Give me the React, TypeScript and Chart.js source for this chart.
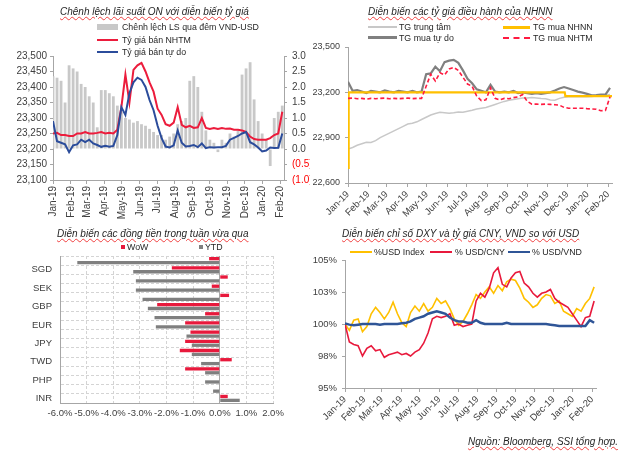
import React, { useEffect, useRef } from 'react';
import { Chart, registerables } from 'chart.js';

Chart.register(...registerables);

const FONT = '"Liberation Sans", Arial, Helvetica, sans-serif';
const TICK_COLOR = '#404040';
const AXIS_COLOR = '#a6a6a6';

// ---- shared time axis (days since 1 Jan 2019, one value per week) ----
const monthDays = [0, 31, 59, 90, 120, 151, 181, 212, 243, 273, 304, 334, 365, 396];
const monthLabels = ['Jan-19', 'Feb-19', 'Mar-19', 'Apr-19', 'May-19', 'Jun-19', 'Jul-19', 'Aug-19', 'Sep-19', 'Oct-19', 'Nov-19', 'Dec-19', 'Jan-20', 'Feb-20'];
const lastDay = 402;
const weekStep = 7;

// ---- chart 1: Chênh lệch lãi suất ON với diễn biến tỷ giá ----
const gapON = [
  2.35, 2.3, 2.2, 1.5, 2.7, 2.6, 2.5, 2.1, 2.0, 1.7,
  1.5, 0.7, 1.9, 1.9, 1.8, 1.7, 1.4, 1.2, 1.0, 0.95,
  0.85, 0.9, 0.8, 0.75, 0.65, 0.55, 0.45, 0.45, 0.3, 0.4,
  0.5, 0.8, 0.9, 1.0, 2.2, 2.35, 2.0, 1.2, 0.6, 0.3,
  0.2, -0.1, 0.3, 0.2, 0.5, 0.4, 0.6, 2.4, 2.6, 2.8,
  1.6, 0.9, 0.5, 0.3, -0.55, 1.0, 1.2, 1.4,
];
const sellNHTM = [
  23250, 23252, 23245, 23245, 23242, 23242, 23250, 23250, 23255, 23250,
  23250, 23252, 23255, 23250, 23252, 23250, 23262, 23335, 23440, 23350,
  23455, 23470, 23478, 23450, 23415, 23385, 23330, 23310, 23280, 23275,
  23285, 23335, 23278, 23270, 23275, 23268, 23270, 23300, 23268, 23265,
  23268, 23265, 23268, 23265, 23266, 23262, 23262, 23260, 23255, 23240,
  23232, 23230, 23230, 23230, 23235, 23245, 23250, 23320,
];
const sellFree = [
  23290, 23225, 23220, 23215, 23190, 23212, 23215, 23230, 23222, 23230,
  23218, 23213, 23207, 23210, 23207, 23210, 23245, 23335, 23310, 23380,
  23415, 23430, 23423, 23400, 23358, 23325, 23275, 23235, 23208, 23205,
  23212, 23260, 23220, 23208, 23210, 23213, 23206, 23218, 23203, 23206,
  23205, 23206, 23206, 23210, 23230, 23236, 23242, 23250, 23255, 23222,
  23215, 23205, 23192, 23195, 23205, 23203, 23204, 23250,
];

// ---- chart 2: Diễn biến các tỷ giá điều hành của NHNN ----
const centralRate = [
  22825, 22835, 22850, 22860, 22870, 22868, 22880, 22900, 22915, 22930,
  22945, 22960, 22975, 22990, 22995, 23005, 23020, 23035, 23050, 23060,
  23068, 23065, 23062, 23065, 23070, 23068, 23075, 23082, 23090, 23095,
  23100, 23110, 23120, 23130, 23140, 23148, 23152, 23158, 23162, 23163,
  23165, 23163, 23160, 23158, 23150, 23148, 23160, 23168, 23170, 23172,
  23170, 23172, 23170, 23172, 23175, 23178, 23180, 23185,
];
const buyFree = [
  23270, 23210, 23215, 23205, 23195, 23210, 23205, 23200, 23212, 23205,
  23200, 23210, 23205, 23200, 23210, 23200, 23205, 23320, 23325, 23370,
  23340, 23400, 23410, 23415, 23395, 23345, 23290, 23260, 23220, 23210,
  23200, 23250, 23205, 23200, 23205, 23200, 23210, 23195, 23200, 23195,
  23190, 23195, 23190, 23195, 23200, 23212, 23225, 23235, 23225, 23215,
  23205, 23198, 23190, 23180, 23182, 23185, 23185, 23230,
];
const buyNHTM = [
  23160, 23162, 23158, 23160, 23155, 23160, 23158, 23160, 23162, 23158,
  23160, 23158, 23160, 23162, 23158, 23160, 23160, 23240, 23320, 23275,
  23330, 23315, 23355, 23365, 23345, 23300, 23255, 23240, 23175, 23145,
  23150, 23230, 23160, 23150, 23160, 23158, 23165, 23170, 23185, 23140,
  23122, 23122, 23120, 23122, 23120, 23118, 23115, 23100, 23095, 23095,
  23095, 23095, 23092, 23090, 23088, 23078, 23080, 23170,
];
const nhnnDays = [0, 1, 330, 331, 402];
const nhnnBuy = [22700, 23200, 23200, 23175, 23175];

// ---- chart 3: Diễn biến các đồng tiền trong tuần vừa qua ----
const currencies = ['KRW', 'SGD', 'THB', 'SEK', 'AUD', 'GBP', 'CHF', 'EUR', 'MYR', 'JPY', 'CNY', 'TWD', 'IDR', 'PHP', 'HKD', 'INR'];
const wow = [-0.4, -1.8, 0.3, -0.3, 0.35, -2.35, -0.55, -1.3, -1.1, -1.3, -1.5, 0.45, -1.3, 0, 0, 0.3];
const ytd = [-5.35, -3.25, -3.15, -3.15, -2.9, -2.7, -2.45, -2.4, -1.25, -1.05, -1.05, -0.7, -0.55, -0.55, -0.25, 0.75];

// ---- chart 4: Diễn biến chỉ số DXY và tỷ giá CNY, VND so với USD ----
const usdIndex = [
  100.0, 99.5, 100.3, 100.4, 99.4, 99.8, 100.8, 101.3, 100.9, 100.4,
  100.9, 101.7, 100.8, 100.1, 99.8, 100.9, 101.4, 101.0, 101.6, 101.0,
  101.3, 102.0, 101.6, 101.8, 101.2, 100.4, 99.9, 100.2, 100.8, 101.5,
  102.3, 102.0, 102.5, 102.9, 102.4, 103.0, 102.6, 103.3, 103.5, 103.4,
  102.8, 102.0, 101.7, 101.3, 101.5, 102.0, 102.3, 102.2, 101.6, 101.8,
  101.0, 100.8, 100.6, 101.2, 101.0, 101.6, 102.0, 102.9,
];
const usdCny = [
  100.0, 98.6, 98.4, 98.3, 97.5, 98.1, 98.3, 97.9, 98.0, 97.4,
  97.6, 97.7, 97.8, 97.6, 97.7, 97.5, 97.8, 98.0, 98.5, 99.3,
  100.4, 100.6, 100.5, 100.6, 100.8, 99.9, 100.0, 99.8, 99.9, 100.0,
  101.8, 102.4, 102.1, 102.8, 104.0, 104.4, 103.1, 102.9, 103.6, 104.0,
  104.1, 103.2, 102.9, 102.4, 102.1, 102.4, 102.5, 102.7, 102.0, 101.7,
  101.5, 101.3, 100.8, 100.3, 99.8, 100.5, 100.6, 101.8,
];
const usdVnd = [
  100.05, 99.95, 99.9, 99.95, 100.0, 100.0, 100.0, 100.0, 99.95, 100.0,
  100.0, 100.0, 100.0, 100.05, 100.1, 100.2, 100.4, 100.5, 100.6, 100.8,
  100.9, 101.0, 100.9, 100.8, 100.5, 100.3, 100.2, 100.2, 100.1, 100.1,
  100.3, 100.1, 100.0, 100.0, 100.0, 100.0, 100.0, 100.1, 100.0, 100.0,
  100.0, 100.0, 100.0, 100.0, 100.0, 100.0, 100.0, 99.95, 99.9, 99.85,
  99.85, 99.85, 99.85, 99.85, 99.85, 99.85, 100.3, 100.1,
];

const weekly = (values: number[]) => values.map((y, i) => ({ x: i * weekStep, y }));
const thousands = (v: number) => String(v).replace(/\B(?=(\d{3})+(?!\d))/g, ',');

const common = {
  animation: false,
  responsive: true,
  maintainAspectRatio: false,
  events: [] as string[],
  elements: { point: { radius: 0 }, line: { tension: 0 } },
  plugins: { legend: { display: false }, tooltip: { enabled: false }, title: { display: false } },
};

function monthAxis(size: number, rotation: number, height: number) {
  return {
    type: 'linear',
    min: 0,
    max: lastDay,
    offset: false,
    afterBuildTicks: (axis: any) => {
      axis.ticks = monthDays.map((value) => ({ value }));
    },
    afterFit: (axis: any) => {
      axis.height = height;
    },
    ticks: {
      autoSkip: false,
      minRotation: rotation,
      maxRotation: rotation,
      padding: 2,
      color: TICK_COLOR,
      font: { family: FONT, size },
      callback: (_v: any, i: number) => monthLabels[i],
    },
    grid: { drawOnChartArea: false, drawTicks: true, tickLength: 4, color: AXIS_COLOR, offset: false },
    border: { display: true, color: AXIS_COLOR },
  };
}

function valueAxis(opts: {
  position: 'left' | 'right';
  min: number;
  max: number;
  step: number;
  width: number;
  size: number;
  padding: number;
  fmt: (v: number) => string;
  color?: any;
}) {
  return {
    type: 'linear',
    position: opts.position,
    min: opts.min,
    max: opts.max,
    afterFit: (axis: any) => {
      axis.width = opts.width;
    },
    ticks: {
      stepSize: opts.step,
      padding: opts.padding,
      color: opts.color || TICK_COLOR,
      font: { family: FONT, size: opts.size },
      callback: (v: any) => opts.fmt(Number(v)),
    },
    grid: { drawOnChartArea: false, drawTicks: true, tickLength: 3, color: AXIS_COLOR },
    border: { display: true, color: AXIS_COLOR },
  };
}

const makeSpread = () => ({
  type: 'bar',
  data: {
    datasets: [
      { type: 'line', label: 'Tỷ giá bán tự do', data: weekly(sellFree), borderColor: '#2b4c9b', borderWidth: 2, yAxisID: 'y', order: 0 },
      { type: 'line', label: 'Tỷ giá bán NHTM', data: weekly(sellNHTM), borderColor: '#ec1c3c', borderWidth: 2, yAxisID: 'y', order: 1 },
      {
        type: 'bar', label: 'Chênh lệch LS qua đêm VND-USD', data: weekly(gapON), backgroundColor: '#c8c8c8',
        yAxisID: 'y1', order: 2, barPercentage: 1, categoryPercentage: 0.7,
      },
    ],
  },
  options: {
    ...common,
    layout: { padding: { top: 56, left: 0, right: 0, bottom: 0 } },
    scales: {
      x: monthAxis(10, 90, 45),
      y: valueAxis({ position: 'left', min: 23100, max: 23500, step: 50, width: 53, size: 10, padding: 3, fmt: thousands }),
      y1: valueAxis({
        position: 'right', min: -1, max: 3, step: 0.5, width: 26, size: 10, padding: 5,
        fmt: (v) => (v < 0 ? `(${(-v).toFixed(1)})` : v.toFixed(1)),
        color: (ctx: any) => (ctx.tick && ctx.tick.value < 0 ? '#ff0000' : TICK_COLOR),
      }),
    },
  },
});

const makeRates = () => ({
  type: 'line',
  data: {
    datasets: [
      { label: 'TG mua NHTM', data: weekly(buyNHTM), borderColor: '#ff1a40', borderWidth: 1.6, borderDash: [4, 2.5], order: 0 },
      { label: 'TG mua NHNN', data: nhnnDays.map((x, i) => ({ x, y: nhnnBuy[i] })), borderColor: '#ffc000', borderWidth: 2.2, order: 1 },
      { label: 'TG mua tự do', data: weekly(buyFree), borderColor: '#808080', borderWidth: 2.2, order: 2 },
      { label: 'TG trung tâm', data: weekly(centralRate), borderColor: '#c8c8c8', borderWidth: 1.5, order: 3 },
    ],
  },
  options: {
    ...common,
    layout: { padding: { top: 47, left: 0, right: 18, bottom: 0 } },
    scales: {
      x: monthAxis(9.5, 45, 42),
      y: valueAxis({ position: 'left', min: 22600, max: 23500, step: 300, width: 35, size: 9, padding: 5, fmt: thousands }),
    },
  },
});

const makeCurrencies = () => ({
  type: 'bar',
  data: {
    labels: currencies,
    datasets: [
      { label: 'WoW', data: wow, backgroundColor: '#e8193c', barPercentage: 0.85, categoryPercentage: 0.85 },
      { label: 'YTD', data: ytd, backgroundColor: '#7f7f7f', barPercentage: 0.85, categoryPercentage: 0.85 },
    ],
  },
  options: {
    ...common,
    indexAxis: 'y',
    layout: { padding: { top: 31, left: 0, right: 32, bottom: 0 } },
    scales: {
      x: {
        type: 'linear',
        min: -6,
        max: 2,
        afterFit: (axis: any) => {
          axis.height = 50;
        },
        ticks: {
          stepSize: 1,
          padding: 5,
          autoSkip: false,
          minRotation: 0,
          maxRotation: 0,
          color: TICK_COLOR,
          font: { family: FONT, size: 9.5 },
          callback: (v: any) => `${Number(v).toFixed(1)}%`,
        },
        grid: {
          drawTicks: false,
          color: (ctx: any) => (ctx.tick && ctx.tick.value === 0 ? '#a6a6a6' : '#d4d4d4'),
        },
        border: {
          display: true,
          color: AXIS_COLOR,
          dash: (ctx: any) => (ctx.tick && ctx.tick.value === 0 ? [] : [3, 2]),
        },
      },
      y: {
        type: 'category',
        afterFit: (axis: any) => {
          axis.width = 60;
        },
        ticks: {
          autoSkip: false,
          padding: 8,
          color: TICK_COLOR,
          font: { family: FONT, size: 9.5 },
          callback: (_v: any, i: number) => (i % 2 === 1 ? currencies[i] : ''),
        },
        grid: { drawTicks: false, color: '#d4d4d4', offset: true },
        border: { display: true, color: AXIS_COLOR, dash: [3, 2] },
      },
    },
  },
});

const makeIndex = () => ({
  type: 'line',
  data: {
    datasets: [
      { label: '% USD/VND', data: weekly(usdVnd), borderColor: '#2f5597', borderWidth: 2.5, order: 0 },
      { label: '% USD/CNY', data: weekly(usdCny), borderColor: '#e8193c', borderWidth: 1.6, order: 1 },
      { label: '%USD Index', data: weekly(usdIndex), borderColor: '#ffc000', borderWidth: 1.6, order: 2 },
    ],
  },
  options: {
    ...common,
    layout: { padding: { top: 35, left: 0, right: 34, bottom: 0 } },
    scales: {
      x: monthAxis(9.5, 45, 65),
      y: valueAxis({ position: 'left', min: 95, max: 105, step: 2.5, width: 40, size: 9.5, padding: 5, fmt: (v) => `${Math.round(v)}%` }),
    },
  },
});

function ChartBox({ left, top, width, height, make }: { left: number; top: number; width: number; height: number; make: () => any }) {
  const ref = useRef<HTMLCanvasElement>(null);
  useEffect(() => {
    if (!ref.current) return;
    const chart = new Chart(ref.current, make());
    return () => chart.destroy();
  }, []);
  return (
    <div style={{ position: 'absolute', left, top, width, height }}>
      <canvas ref={ref} />
    </div>
  );
}

function Text({ x, y, size = 8.8, italic = false, wavy = false, right, children }: { x?: number; y: number; size?: number; italic?: boolean; wavy?: boolean; right?: number; children: React.ReactNode }) {
  return (
    <div
      style={{
        position: 'absolute',
        left: x,
        right,
        top: y - 7,
        lineHeight: '14px',
        fontSize: size,
        fontFamily: FONT,
        fontStyle: italic ? 'italic' : 'normal',
        color: '#262626',
        whiteSpace: 'nowrap',
        textDecorationLine: wavy ? 'underline' : 'none',
        textDecorationStyle: 'wavy',
        textDecorationColor: '#f04040',
        textDecorationThickness: '1px',
        textUnderlineOffset: '1px',
      }}
    >
      {children}
    </div>
  );
}

function Swatch({ x, y, w, h, color, dashed = false }: { x: number; y: number; w: number; h: number; color: string; dashed?: boolean }) {
  return (
    <div
      style={{
        position: 'absolute',
        left: x,
        top: y - h / 2,
        width: w,
        height: dashed ? 0 : h,
        background: dashed ? 'transparent' : color,
        borderTop: dashed ? `${h}px dashed ${color}` : 'none',
      }}
    />
  );
}

export default function App() {
  return (
    <div style={{ position: 'fixed', left: 0, top: 0, width: 630, height: 453, background: '#fff', overflow: 'hidden' }}>
      <ChartBox left={0} top={0} width={310} height={225} make={makeSpread} />
      <ChartBox left={313} top={0} width={317} height={225} make={makeRates} />
      <ChartBox left={0} top={225} width={305} height={228} make={makeCurrencies} />
      <ChartBox left={305} top={225} width={325} height={228} make={makeIndex} />

      {/* chart 1 title & legend */}
      <Text x={60} y={12} size={10} italic wavy>Chênh lệch lãi suất ON với diễn biến tỷ giá</Text>
      <Swatch x={97} y={26.5} w={21} h={6} color="#c8c8c8" />
      <Text x={122} y={26.7}>Chênh lệch LS qua đêm VND-USD</Text>
      <Swatch x={97} y={39.5} w={21} h={2} color="#ec1c3c" />
      <Text x={122} y={40}>Tỷ giá bán NHTM</Text>
      <Swatch x={97} y={51.7} w={21} h={2} color="#2b4c9b" />
      <Text x={122} y={52}>Tỷ giá bán tự do</Text>

      {/* chart 2 title & legend */}
      <Text x={368} y={12} size={10} italic wavy>Diễn biến các tỷ giá điều hành của NHNN</Text>
      <Swatch x={368} y={27.3} w={29} h={2} color="#c8c8c8" />
      <Text x={399} y={27.3}>TG trung tâm</Text>
      <Swatch x={368} y={37.5} w={29} h={2.5} color="#808080" />
      <Text x={399} y={37.5}>TG mua tự do</Text>
      <Swatch x={503} y={27.3} w={27} h={2.5} color="#ffc000" />
      <Text x={533} y={27.3}>TG mua NHNN</Text>
      <Swatch x={503} y={37.5} w={27} h={2} color="#ff1a40" dashed />
      <Text x={533} y={37.5}>TG mua NHTM</Text>

      {/* chart 3 title & legend */}
      <Text x={57} y={234} size={10} italic wavy>Diễn biến các đồng tiền trong tuần vừa qua</Text>
      <Swatch x={121} y={247} w={4} h={4} color="#e8193c" />
      <Text x={127} y={247}>WoW</Text>
      <Swatch x={199} y={247} w={4} h={4} color="#7f7f7f" />
      <Text x={205} y={247}>YTD</Text>

      {/* chart 4 title & legend */}
      <Text x={342} y={234} size={10} italic wavy>Diễn biến chỉ số DXY và tỷ giá CNY, VND so với USD</Text>
      <Swatch x={350} y={252} w={22} h={2.5} color="#ffc000" />
      <Text x={374} y={252}>%USD Index</Text>
      <Swatch x={430} y={252} w={22} h={2.5} color="#e8193c" />
      <Text x={455} y={252}>% USD/CNY</Text>
      <Swatch x={508} y={252} w={22} h={2.5} color="#2f5597" />
      <Text x={532} y={252}>% USD/VND</Text>

      <Text right={12} y={442} size={10} italic wavy>Nguồn: Bloomberg, SSI tổng hợp.</Text>
    </div>
  );
}
